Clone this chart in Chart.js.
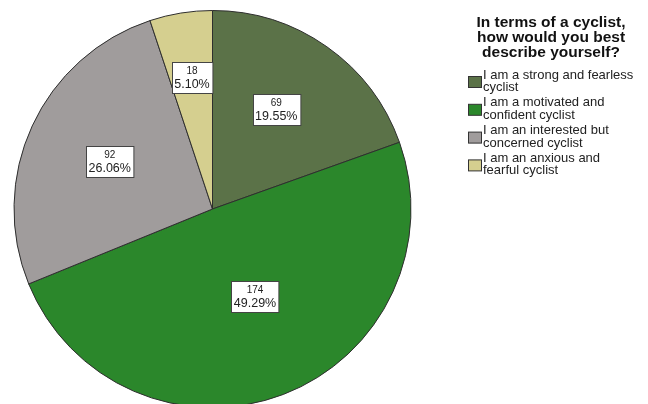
<!DOCTYPE html>
<html>
<head>
<meta charset="utf-8">
<script src="https://cdn.jsdelivr.net/npm/chart.js@4/dist/chart.umd.min.js"></script>
<style>
  html, body { margin: 0; padding: 0; background: #fff; overflow: hidden; }
  #wrap { width: 648px; height: 420px; }
</style>
</head>
<body>
<div id="wrap"><canvas id="pieChart" width="648" height="420"></canvas></div>
<script>
// survey answers, clockwise from 12 o'clock
const categories = [
    ["I am a strong and fearless", "cyclist"],
    ["I am a motivated and", "confident cyclist"],
    ["I am an interested but", "concerned cyclist"],
    ["I am an anxious and", "fearful cyclist"]
];
const counts = [69, 174, 92, 18];
const percents = ["19.55%", "49.29%", "26.06%", "5.10%"];
const legendTitle = ["In terms of a cyclist,", "how would you best", "describe yourself?"];

const sliceColors = ["#5b7248", "#2b872b", "#a09c9c", "#d5cf8f"];
// where each value box sits: fraction of radius, and a nudge in degrees off the mid-angle
const labelRadius = [0.595, 0.49, 0.57, 0.67];
const labelNudge = [-2.5, -5, 0, 0.3];

const FONT = "'Liberation Sans', Arial, sans-serif";

// white value boxes on each slice
const valueBoxes = {
    id: "valueBoxes",
    afterDatasetsDraw(chart) {
        const ctx = chart.ctx;
        const arcs = chart.getDatasetMeta(0).data;
        arcs.forEach((arc, i) => {
            const mid = (arc.startAngle + arc.endAngle) / 2 + labelNudge[i] * Math.PI / 180;
            const r = arc.outerRadius * labelRadius[i];
            const cx = arc.x + Math.cos(mid) * r;
            const cy = arc.y + Math.sin(mid) * r;

            ctx.save();
            ctx.font = "12.5px " + FONT;
            const w = ctx.measureText(percents[i]).width + 5;
            const h = 31;
            const x0 = Math.round(cx - w / 2) + 0.5;
            const y0 = Math.round(cy - h / 2) + 0.5;
            ctx.fillStyle = "#ffffff";
            ctx.fillRect(x0, y0, w, h);
            ctx.strokeStyle = "#444";
            ctx.lineWidth = 1;
            ctx.strokeRect(x0, y0, w, h);

            ctx.fillStyle = "#222";
            ctx.textAlign = "center";
            ctx.textBaseline = "middle";
            ctx.font = "10px " + FONT;
            ctx.fillText(String(counts[i]), cx, y0 + 9);
            ctx.font = "12.5px " + FONT;
            ctx.fillText(percents[i], cx, y0 + 22);
            ctx.restore();
        });
    }
};

// legend on the right with a bold centred title
const sideLegend = {
    id: "sideLegend",
    afterDraw(chart) {
        const ctx = chart.ctx;
        ctx.save();
        ctx.fillStyle = "#111";
        ctx.textAlign = "center";
        ctx.textBaseline = "middle";
        ctx.font = "bold 15.5px " + FONT;
        legendTitle.forEach((line, i) => {
            ctx.fillText(line, 551, 23 + i * 15);
        });

        ctx.textAlign = "left";
        ctx.font = "13px " + FONT;
        categories.forEach((lines, i) => {
            const top = 75 + i * 27.8;
            ctx.fillStyle = sliceColors[i];
            ctx.fillRect(468.5, top + 1.5, 13, 11);
            ctx.strokeStyle = "#333";
            ctx.lineWidth = 1;
            ctx.strokeRect(468.5, top + 1.5, 13, 11);
            ctx.fillStyle = "#222";
            lines.forEach((t, j) => {
                ctx.fillText(t, 483, top + j * 12.5);
            });
        });
        ctx.restore();
    }
};

new Chart(document.getElementById("pieChart").getContext("2d"), {
    type: "pie",
    data: {
        labels: categories,
        datasets: [{
            data: counts,
            backgroundColor: sliceColors,
            borderColor: "#2e2e2e",
            borderWidth: 1
        }]
    },
    options: {
        responsive: false,
        animation: false,
        layout: { padding: { left: 13, top: 10, right: 236, bottom: 12 } },
        plugins: {
            legend: { display: false },
            tooltip: { enabled: false }
        }
    },
    plugins: [valueBoxes, sideLegend]
});
</script>
</body>
</html>
